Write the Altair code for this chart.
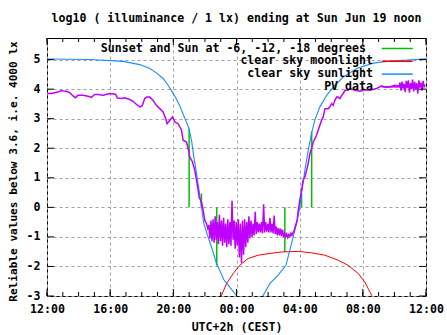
import json
import altair as alt
import numpy as np
import pandas as pd

FONT = "DejaVu Sans Mono"
FS = 11.6
W, H = 379, 258

title_text = "log10 ( illuminance / 1 lx) ending at Sun Jun 19 noon"
x_title = "UTC+2h (CEST)"
y_title = "Reliable values below 3.6, i.e. 4000 lx"
x_tick_hours = [0, 4, 8, 12, 16, 20, 24]
x_tick_labels = ["12:00", "16:00", "20:00", "00:00", "04:00", "08:00", "12:00"]
minor_hours = list(range(25))
y_ticks = [-3, -2, -1, 0, 1, 2, 3, 4, 5]
legend_labels = ["Sunset and Sun at -6, -12, -18 degrees", "clear sky moonlight",
                 "clear sky sunlight", "PV data"]
legend_colors = ["#00c000", "#ff0000", "#1a8cff", "#c000ff"]

# hours after 12:00 (Jun 18) -> log10 illuminance
sun_h = [0.0, 2.71, 4.82, 5.87, 6.51, 6.93, 7.35, 7.67, 7.88, 8.14, 8.40, 8.62, 8.86, 8.99,
         9.15, 9.30, 9.47, 9.63, 9.78, 9.93, 10.20, 10.45, 10.70, 10.95, 11.20, 11.50,
         12.02, 12.85, 13.67, 14.11, 14.62, 15.13, 15.38, 15.59, 15.80, 16.01, 16.12,
         16.33, 16.54, 16.75, 16.96, 17.28, 17.71, 18.12, 18.76, 19.18, 19.61, 20.66,
         21.72, 22.78, 24.0]
sun_v = [5.02, 5.00, 4.94, 4.83, 4.70, 4.55, 4.36, 4.13, 3.95, 3.72, 3.45, 3.15, 2.85, 2.66,
         2.27, 1.70, 1.14, 0.58, 0.01, -0.55, -1.00, -1.40, -1.85, -2.15, -2.45, -2.65,
         -3.00, -3.25, -3.00, -2.58, -2.30, -1.96, -1.45, -1.00, -0.55, 0.00, 0.47,
         1.25, 1.93, 2.50, 2.95, 3.40, 3.79, 4.07, 4.41, 4.55, 4.70, 4.88,
         4.95, 4.98, 5.03]

moon_h = [10.98, 11.05, 11.37, 11.79, 12.21, 12.74, 13.37, 14.00, 14.85, 15.91, 16.75,
          17.60, 18.44, 19.07, 19.71, 20.13, 20.34, 20.56, 20.61]
moon_v = [-3.20, -2.98, -2.58, -2.24, -1.96, -1.73, -1.62, -1.57, -1.51, -1.49, -1.54,
          -1.62, -1.79, -1.96, -2.24, -2.53, -2.75, -2.98, -3.20]

tw_h = [9.00, 9.78, 10.75, 15.06, 16.12, 16.76]
tw_start = [0, 0, 0, 0, 0, 0]
tw_end = [2.66, 0.47, -1.97, -1.51, 0.47, 2.57]

pv_h_evening = [0.03, 0.28, 0.49, 0.70, 0.91, 1.01, 1.23, 1.44, 1.65, 1.80, 1.96, 2.28, 2.60,
                2.81, 3.02, 3.23, 3.55, 3.97, 4.34, 4.46, 4.72, 4.92, 5.24, 5.45, 5.67, 5.88,
                6.02, 6.19, 6.32, 6.51, 6.72, 6.93, 7.14, 7.35, 7.52, 7.60, 7.78, 7.95, 8.09,
                8.30, 8.52, 8.62, 8.83, 8.94, 9.04, 9.21, 9.36, 9.47, 9.57, 9.63, 9.78, 9.89,
                9.99, 10.10, 10.18]
pv_v_evening = [3.85, 3.85, 3.88, 3.90, 3.95, 3.94, 3.93, 3.88, 3.77, 3.71, 3.79, 3.79, 3.76,
                3.72, 3.82, 3.82, 3.79, 3.85, 3.83, 3.70, 3.68, 3.71, 3.65, 3.59, 3.48, 3.40,
                3.43, 3.68, 3.73, 3.73, 3.62, 3.45, 3.34, 3.23, 3.00, 2.83, 2.95, 3.06, 2.89,
                2.83, 2.61, 2.27, 2.21, 1.99, 1.70, 1.54, 1.25, 0.92, 0.58, 0.35, 0.18, -0.10,
                -0.44, -0.55, -0.71]

night_start, night_step = 10.25, 4 / 60
pv_v_night = [-0.60, -1.05, -0.45, -1.15, -0.40, -1.20, -0.30, -1.10, -0.50, -1.25,
              -0.25, -1.15, -0.45, -1.30, -0.35, -1.20, -0.55, -1.35, -0.40, -1.25,
              -0.50, -1.30, 0.22, -1.10, -0.45, -1.40, -0.50, -1.30, -0.40, -1.70,
              -0.55, -1.88, -0.45, -1.60, -0.40, -1.35, -0.50, -1.20, -0.30, -1.05,
              -0.45, -1.00, -0.55, -0.95, -0.15, -0.90, -0.50, -0.85, -0.55, -0.85,
              -0.50, -0.88, 0.10, -0.85, -0.50, -0.82, -0.55, -0.85, -0.35, -0.85,
              -0.55, -0.88, -0.28, -0.90, -0.65, -0.95, -0.70, -0.95, -0.72, -0.97,
              -0.75, -1.00, -0.88, -1.00, -0.90, -1.02, -0.92, -0.98, -0.88, -0.95,
              -0.85, -0.80, -0.65, -0.55, -0.40]

pv_h_morning = [15.91, 16.01, 16.12, 16.22, 16.33, 16.44, 16.54, 16.65, 16.75, 16.86, 17.07,
                17.17, 17.28, 17.39, 17.49, 17.60, 17.81, 17.92, 18.02, 18.12, 18.23, 18.34,
                18.44, 18.55, 18.66, 18.76, 18.87, 19.07, 19.18, 19.50, 19.82, 20.13, 20.45,
                20.87, 21.19, 21.46, 21.72, 22.03, 22.29]
pv_v_morning = [-0.10, 0.24, 0.58, 0.92, 1.03, 1.25, 1.48, 1.82, 1.99, 2.21, 2.44, 2.61, 2.78,
                2.95, 3.06, 3.34, 3.34, 3.40, 3.51, 3.45, 3.62, 3.73, 3.73, 3.68, 3.79, 3.85,
                3.96, 3.96, 4.02, 3.96, 3.93, 3.98, 3.96, 4.02, 4.11, 4.06, 4.08, 4.13, 4.10]

noon_start, noon_step = 22.35, 4 / 60
pv_v_noon = [4.22, 3.95, 4.25, 4.02, 4.18, 3.90, 4.28, 4.05, 4.30, 3.88, 4.20, 4.00, 4.32,
             3.92, 4.25, 3.98, 4.20, 3.85, 4.30, 4.05, 4.22, 3.95, 4.28, 4.08, 4.15]

night_h = list(night_start + night_step * np.arange(len(pv_v_night)))
noon_h = list(noon_start + noon_step * np.arange(len(pv_v_noon)))
pv_df = pd.DataFrame({
    "h": pv_h_evening + night_h + pv_h_morning + noon_h,
    "v": pv_v_evening + pv_v_night + pv_v_morning + pv_v_noon,
})
sun_df = pd.DataFrame({"h": sun_h, "v": sun_v})
moon_df = pd.DataFrame({"h": moon_h, "v": moon_v})
tw_df = pd.DataFrame({"h": tw_h, "v0": tw_start, "v1": tw_end})

xs = alt.Scale(domain=[0, 24], nice=False, zero=False)
ys = alt.Scale(domain=[-3, 5.73], nice=False, zero=False)

common_axis = dict(grid=True, gridColor="#a0a0a0", gridDash=[3, 3], gridWidth=1,
                   ticks=False, domain=False, labelFont=FONT, labelFontSize=FS,
                   labelFontWeight="bold", labelColor="black", labelPadding=7,
                   labelOverlap=False, titleFont=FONT, titleFontWeight="bold",
                   titleColor="black", titleAlign="center")
x_axis = alt.Axis(values=x_tick_hours,
                  labelExpr=json.dumps(x_tick_labels) + "[round(datum.value / 4)]",
                  title=x_title, labelFlush=False, titleFontSize=FS,
                  titleX=W / 2, titleY=34.5, titleBaseline="alphabetic", **common_axis)
y_axis = alt.Axis(values=y_ticks, labelExpr="'' + datum.value", title=y_title,
                  titleFontSize=11.1, titleAngle=270, titleX=-34, titleY=133,
                  titleBaseline="middle", **common_axis)


def X(f):
    return alt.X(f, type="quantitative", scale=xs, axis=x_axis)


def Y(f):
    return alt.Y(f, type="quantitative", scale=ys, axis=y_axis)


layers = []
layers.append(alt.Chart(tw_df).mark_rule(color=legend_colors[0], strokeWidth=1.5)
              .encode(x=X("h"), y=Y("v0"), y2=alt.Y2("v1")))
layers.append(alt.Chart(moon_df).mark_line(color=legend_colors[1], strokeWidth=1, clip=True)
              .encode(x=X("h"), y=Y("v")))
layers.append(alt.Chart(sun_df).mark_line(color=legend_colors[2], strokeWidth=1.1, clip=True)
              .encode(x=X("h"), y=Y("v")))
layers.append(alt.Chart(pv_df).mark_line(color=legend_colors[3], strokeWidth=1.5, clip=True)
              .encode(x=X("h"), y=Y("v")))

minor_df = pd.DataFrame({"h": minor_hours})
major_df = pd.DataFrame({"h": x_tick_hours})
yt_df = pd.DataFrame({"v": y_ticks})
for df, L in ((minor_df, 4), (major_df, 7)):
    layers.append(alt.Chart(df).mark_rule(color="black", strokeWidth=1)
                  .encode(x=X("h"), y=alt.value(H), y2=alt.value(H - L)))
    layers.append(alt.Chart(df).mark_rule(color="black", strokeWidth=1)
                  .encode(x=X("h"), y=alt.value(0), y2=alt.value(L)))
layers.append(alt.Chart(yt_df).mark_rule(color="black", strokeWidth=1)
              .encode(y=Y("v"), x=alt.value(0), x2=alt.value(7)))
layers.append(alt.Chart(yt_df).mark_rule(color="black", strokeWidth=1)
              .encode(y=Y("v"), x=alt.value(W), x2=alt.value(W - 7)))

for i, (lab, col) in enumerate(zip(legend_labels, legend_colors)):
    ry = 10.5 + 12.8 * i
    shift = -7 if i == 0 else 0
    layers.append(alt.Chart(pd.DataFrame({"t": [lab]}))
                  .mark_text(align="right", baseline="middle", font=FONT, fontSize=FS,
                             fontWeight="bold", color="black", dx=shift)
                  .encode(text="t:N", x=alt.value(326), y=alt.value(ry)))
    layers.append(alt.Chart(pd.DataFrame({"c": [col]}))
                  .mark_rule(color=col, strokeWidth=1.5)
                  .encode(x=alt.value(334.7), x2=alt.value(365.7), y=alt.value(ry)))

layers.append(alt.Chart(pd.DataFrame({"t": [title_text]}))
              .mark_text(align="center", baseline="alphabetic", font=FONT, fontSize=FS,
                         fontWeight="bold", color="black")
              .encode(text="t:N", x=alt.value(W / 2), y=alt.value(-16.2)))

chart = (alt.layer(*layers)
         .properties(width=W, height=H, autosize=alt.AutoSizeParams(type="none"),
                     padding={"left": 47, "top": 38, "right": 21, "bottom": 39})
         .configure(background="white")
         .configure_view(stroke="black", strokeWidth=1))

chart.save("out.html", embed_options={"renderer": "svg", "actions": False})
